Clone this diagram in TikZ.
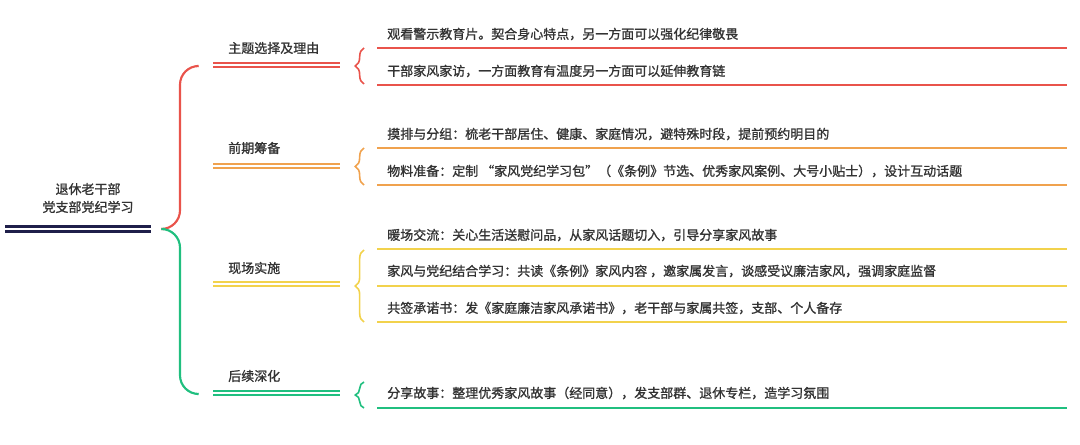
\documentclass[tikz,border=0pt]{standalone}
\usepackage{fontspec}
\setmainfont{Noto Sans CJK SC}
\newfontfamily\cjkheavy{Noto Sans CJK SC}[FakeBold=1.2]
\usetikzlibrary{decorations.pathreplacing}
\definecolor{navy}{HTML}{1F1F4A}
\definecolor{brred}{HTML}{E9534B}
\definecolor{brorange}{HTML}{F0A24E}
\definecolor{bryellow}{HTML}{F2D24C}
\definecolor{brgreen}{HTML}{20BF7F}
\definecolor{txtgray}{HTML}{333333}
\tikzset{
  txt/.style={font=\cjkheavy\fontsize{9.75}{13.5}\selectfont, text=txtgray, inner sep=0pt},
  twin/.style={double=white, double distance=1.6pt, line width=1.6pt},
  itemline/.style={line width=1.6pt},
  smallbrace/.style={decorate, decoration={brace, amplitude=6.5pt}, line width=1.2pt},
}
\begin{document}
\begin{tikzpicture}[x=0.75pt, y=-0.75pt]
  \useasboundingbox (0,0) rectangle (1080,445);
  % root
  \node[txt, align=center] (root) at (88,198) {退休老干部\\党支部党纪学习};
  \coordinate (rootL) at (5,229);
  \coordinate (rootR) at (165,229);
  \draw[twin, navy, line width=1.9pt] (rootL) -- (151,229);
  % main brace
  \coordinate (b1) at (213,65);
  \coordinate (b4) at (213,393);
  \draw[brred, line width=1.6pt, rounded corners=14pt] (rootR) -| (180,66) -- (197,66);
  \draw[brgreen, line width=1.6pt, rounded corners=14pt] (rootR) -| (180,394) -- (197,394);
  % branches
  \node[txt, anchor=west] (t1) at (228,48) {主题选择及理由};
  \node[txt, anchor=west] (t2) at (228,148) {前期筹备};
  \node[txt, anchor=west] (t3) at (228,268) {现场实施};
  \node[txt, anchor=west] (t4) at (228,376) {后续深化};
  \draw[twin, brred] (b1) -- (340,65);
  \draw[twin, brorange] (213,166) -- (340,166);
  \draw[twin, bryellow] (213,284) -- (340,284);
  \draw[twin, brgreen] (b4) -- (340,393);
  % small braces
  \draw[smallbrace, brred] (364,84) -- (364,48);
  \draw[smallbrace, brorange] (364,185) -- (364,148);
  \draw[smallbrace, bryellow] (364,322) -- (364,250);
  \draw[smallbrace, brgreen] (364,408) -- (364,382);
  % items
  \node[txt, anchor=west] (i1) at (387,34) {观看警示教育片。契合身心特点，另一方面可以强化纪律敬畏};
  \node[txt, anchor=west] (i2) at (387,71) {干部家风家访，一方面教育有温度另一方面可以延伸教育链};
  \node[txt, anchor=west] (i3) at (387,134) {摸排与分组：梳老干部居住、健康、家庭情况，避特殊时段，提前预约明目的};
  \node[txt, anchor=west] (i4) at (387,171) {物料准备：定制 “家风党纪学习包”（《条例》节选、优秀家风案例、大号小贴士），设计互动话题};
  \node[txt, anchor=west] (i5) at (387,235) {暖场交流：关心生活送慰问品，从家风话题切入，引导分享家风故事};
  \node[txt, anchor=west] (i6) at (387,271) {家风与党纪结合学习：共读《条例》家风内容 ，邀家属发言，谈感受议廉洁家风，强调家庭监督};
  \node[txt, anchor=west] (i7) at (387,308) {共签承诺书：发《家庭廉洁家风承诺书》，老干部与家属共签，支部、个人备存};
  \node[txt, anchor=west] (i8) at (387,393) {分享故事：整理优秀家风故事（经同意），发支部群、退休专栏，造学习氛围};
  \foreach \y/\c in {48/brred, 85/brred, 148/brorange, 185/brorange, 249/bryellow, 286/bryellow, 322/bryellow, 408/brgreen}
    \draw[itemline, \c] (377,\y) -- (1067,\y);
\end{tikzpicture}
\end{document}
